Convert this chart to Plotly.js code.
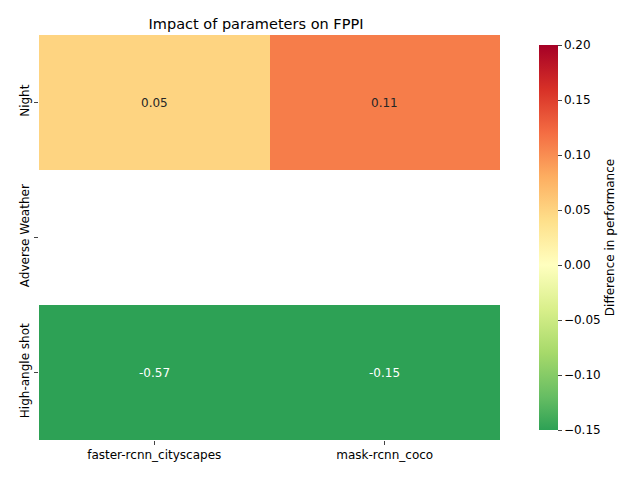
<!DOCTYPE html>
<html><head><meta charset="utf-8">
<script src="https://cdn.plot.ly/plotly-3.0.1.min.js"></script>
<style>body{margin:0}</style></head>
<body><div id="c" style="width:640px;height:480px"></div>
<script>
const models = ["faster-rcnn_cityscapes", "mask-rcnn_coco"];
const params = ["Night", "Adverse Weather", "High-angle shot"];
const night = [0.05, 0.11];
const adverse = [null, null];
const highAngle = [-0.57, -0.15];
const z = [night, adverse, highAngle];
const zmin = -0.15, zmax = 0.2;
const cs = [[0,"rgb(45,161,85)"],[0.0857,"#66bd63"],[0.2,"#a6d96a"],[0.3143,"#d9ef8b"],[0.4286,"#ffffbf"],[0.5429,"#fee08b"],[0.6571,"#fdae61"],[0.7714,"#f46d43"],[0.8857,"#d73027"],[1,"#a50026"]];
const ann = [];
z.forEach((row,i)=>row.forEach((v,j)=>{
  if(v===null) return;
  ann.push({x:models[j],y:params[i],text:v.toFixed(2),showarrow:false,
    font:{size:12,color:(v<-0.08||v>0.15)?"white":"#262626"}});
}));
Plotly.newPlot("c",[{type:"heatmap",x:models,y:params,z:z,zmin:zmin,zmax:zmax,colorscale:cs,xgap:0,ygap:0,
  colorbar:{x:1.063,xanchor:"left",y:0.5,len:1,thickness:19,outlinewidth:0,
    tickvals:[-0.15,-0.1,-0.05,0,0.05,0.1,0.15,0.2],tickformat:".2f",ticks:"outside",ticklen:4,
    tickfont:{family:"DejaVu Sans",size:12,color:"black"},
    title:{text:"Difference in performance",side:"right",font:{family:"DejaVu Sans",size:12}}}}],
{width:640,height:480,margin:{l:39,r:140,t:35,b:40},plot_bgcolor:"white",paper_bgcolor:"white",
 title:{text:"Impact of parameters on FPPI",x:0.4,xanchor:"center",y:0.96,font:{family:"DejaVu Sans",size:14.5,color:"black"}},
 font:{family:"DejaVu Sans",size:12,color:"black"},
 xaxis:{showgrid:false,zeroline:false,ticks:"outside",ticklen:4},
 yaxis:{autorange:"reversed",showgrid:false,zeroline:false,ticks:"outside",ticklen:4,tickangle:-90},
 annotations:ann},{displayModeBar:false});
</script></body></html>
